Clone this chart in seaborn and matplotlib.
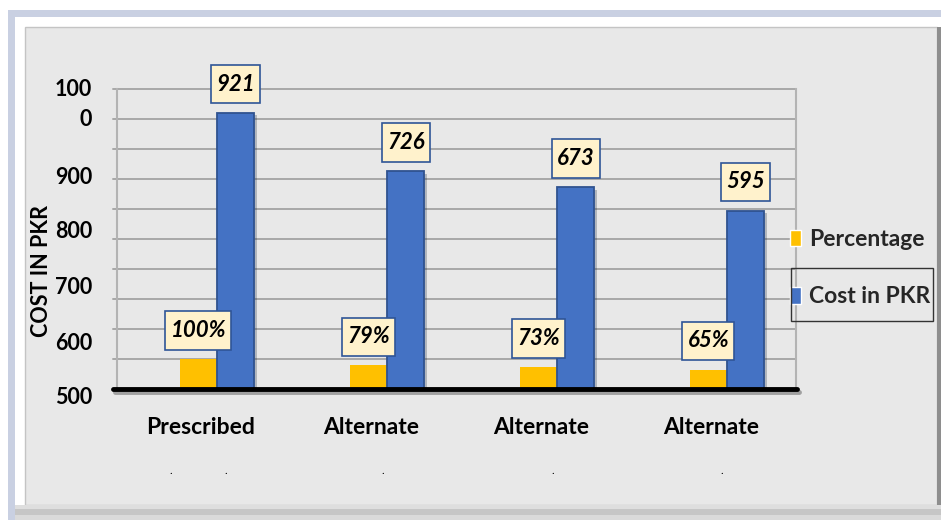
import matplotlib
matplotlib.use("Agg")
import matplotlib.pyplot as plt
import matplotlib.patches as mpatches
import matplotlib.patheffects as pe
from matplotlib.path import Path
import pandas as pd
import seaborn as sns

# ---- chart data ----
options = ["Prescribed", "Alternate", "Alternate", "Alternate"]
percentage = [100, 79, 73, 65]
cost_pkr = [921, 726, 673, 595]
series_names = ["Percentage", "Cost in PKR"]
ytick_labels = ["100", "0", "900", "800", "700", "600", "500"]
y_title = "COST IN PKR"

# ---- styling ----
sns.set_theme(style="white")
plt.rcParams["font.family"] = ["Lato", "DejaVu Sans"]
palette = {"Percentage": "#ffc000", "Cost in PKR": "#4472c4"}
BG = "#e8e8e8"

W, H = 945, 520
fig = plt.figure(figsize=(W / 100, H / 100), dpi=100)
fig.patch.set_facecolor("white")


def px_rect(x0, y0, x1, y1, z=-10, **kw):
    r = mpatches.Rectangle((x0 / W, 1 - y1 / H), (x1 - x0) / W, (y1 - y0) / H,
                           transform=fig.transFigure, zorder=z, **kw)
    fig.patches.append(r)
    return r


def callout_box(x0, y0, width, height, mutation_size, padx=0.23, pady=0.39):
    """Square box with separate horizontal / vertical padding."""
    px, py = padx * mutation_size, pady * mutation_size
    x0, y0 = x0 - px, y0 - py
    x1, y1 = x0 + width + 2 * px, y0 + height + 2 * py
    return Path([(x0, y0), (x1, y0), (x1, y1), (x0, y1), (x0, y0)],
                [Path.MOVETO, Path.LINETO, Path.LINETO, Path.LINETO, Path.CLOSEPOLY])


# bevelled chart frame
px_rect(8, 10, 941, 520, fc="#c9d0e2", ec="none")
px_rect(15, 17, 941, 520, fc="white", ec="none")
px_rect(25, 27, 937, 505, fc=BG, ec="#c4c4c4", lw=1)
px_rect(937, 27, 941, 505, fc="#8e8e8e", ec="none")
px_rect(15, 505, 941, 509, fc="#dedede", ec="none")
px_rect(15, 509, 941, 515, fc="#c6c6c6", ec="none")
px_rect(15, 515, 941, 520, fc="#dadada", ec="none")

# plot area
ax = fig.add_axes([117 / W, 1 - 389 / H, (796 - 117) / W, 300 / H])
ax.patch.set_alpha(0)

df = pd.DataFrame({
    "option": list(range(len(options))) * 2,
    "series": [series_names[0]] * len(options) + [series_names[1]] * len(options),
    "value": percentage + cost_pkr,
})

sns.barplot(data=df, x="option", y="value", hue="series", hue_order=series_names,
            palette=palette, width=0.44, saturation=1, errorbar=None, ax=ax)

pct_bars, cost_bars = ax.containers[0], ax.containers[1]
for p in pct_bars:
    p.set_linewidth(0)
    p.set_zorder(2)
for p in cost_bars:
    p.set_edgecolor("#2f528f")
    p.set_linewidth(1.3)
    p.set_zorder(2)
    p.set_path_effects([pe.SimplePatchShadow(offset=(2, -2), alpha=0.25), pe.Normal()])

ax.set_ylim(0, 1000)
ax.set_xlim(-0.588, 3.406)
ax.set_xticks([])
ax.set_yticks([])
ax.set_xlabel("")
ax.set_ylabel("")

for s in ["top", "bottom"]:
    ax.spines[s].set_visible(False)
for s in ["left", "right"]:
    ax.spines[s].set_color("#b3b3b3")
    ax.spines[s].set_linewidth(1.5)

# horizontal gridlines every 100
for v in range(100, 1001, 100):
    ax.axhline(v, xmin=-0.006, xmax=1.0, color="#a8a8a8", lw=1.4, zorder=0.5, clip_on=False)

# heavy baseline with shadow
ax.axhline(0, xmin=-0.006, xmax=1.002, color="black", lw=3.5, zorder=4, clip_on=False,
           path_effects=[pe.SimpleLineShadow(offset=(1.5, -2.5), alpha=0.35), pe.Normal()])

# value callouts
box = dict(boxstyle=callout_box, fc="#fff2cc", ec="#2f5597", lw=1.2)
label_kw = dict(padding=13, fontsize=16, fontstyle="italic", fontweight="bold",
                color="black", bbox=box, zorder=6)
ax.bar_label(pct_bars, labels=[f"{v}%" for v in percentage], **label_kw)
ax.bar_label(cost_bars, labels=[f"{v}" for v in cost_pkr], **label_kw)

# y-axis labels
ytick_px = [89, 119, 177, 232, 288, 343, 398]
ytrans = ax.get_yaxis_transform()
for lab, ypx in zip(ytick_labels, ytick_px):
    ax.text(-0.037, (389 - ypx) / 0.3, lab, transform=ytrans, ha="right", va="center",
            fontsize=15.5, fontweight="bold", color="black", clip_on=False)

# category labels
xtrans = ax.get_xaxis_transform()
for i, name in enumerate(options):
    ax.text(i - 0.095, -0.13, name, transform=xtrans, ha="center", va="center",
            fontsize=16.5, fontweight="bold", color="black", clip_on=False)

dot_offsets = [[-0.27, 0.05], [-0.025], [-0.025], [-0.03]]
for i, offs in enumerate(dot_offsets):
    for o in offs:
        ax.text(i + o, -0.27, ".", transform=xtrans, ha="center", va="center",
                fontsize=8, color="black", clip_on=False)

fig.text(42 / W, 1 - 271 / H, y_title, rotation=90, ha="center", va="center",
         fontsize=15.5, fontweight="bold", color="black")

# legend
leg = ax.get_legend()
handles = list(leg.legend_handles)
labels = [t.get_text() for t in leg.texts]
leg.remove()
fig.legend(handles, labels, loc="upper left", bbox_to_anchor=(790 / W, 1 - 229 / H),
           frameon=False, borderpad=0, borderaxespad=0,
           prop=dict(weight="bold", size=16.5), handlelength=0.48, handleheight=0.74,
           handletextpad=0.35, labelspacing=1.58)
px_rect(791, 268, 933, 321, z=10, fc="none", ec="#333333", lw=1)

fig.savefig("out.png", dpi=100, facecolor=fig.get_facecolor())
